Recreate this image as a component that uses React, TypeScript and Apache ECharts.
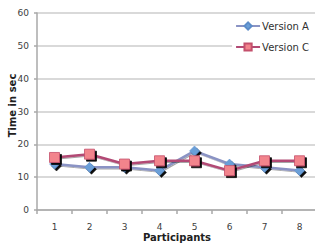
import React, { useEffect, useRef } from "react";
import * as echarts from "echarts";

const participants = ["1", "2", "3", "4", "5", "6", "7", "8"];
const versionA = [14, 13, 13, 12, 18, 14, 13, 12];
const versionC = [16, 17, 14, 15, 15, 12, 15, 15];

export default function App() {
  const ref = useRef<HTMLDivElement>(null);
  useEffect(() => {
    if (!ref.current) return;
    const chart = echarts.init(ref.current, null, { renderer: "svg" });
    const font = "DejaVu Sans";
    chart.setOption({
      animation: false,
      backgroundColor: "#ffffff",
      grid: { left: 37, top: 13, right: -2, bottom: 34, outerBoundsMode: "none", containLabel: false },
      legend: {
        orient: "vertical",
        right: 0,
        top: 18,
        backgroundColor: "#ffffff",
        padding: [3, 6, 4, 3],
        itemWidth: 24,
        itemHeight: 9,
        itemGap: 11,
        textStyle: { fontFamily: font, fontSize: 10, color: "#303030", padding: [0, 0, 0, -3] },
        data: ["Version A", "Version C"],
      },
      xAxis: {
        type: "category",
        data: participants,
        boundaryGap: true,
        name: "Participants",
        nameLocation: "middle",
        nameGap: 22,
        nameMoveOverlap: false,
        nameTextStyle: { fontFamily: font, fontSize: 10, fontWeight: "bold", color: "#202020", lineHeight: 11 },
        axisLine: { lineStyle: { color: "#a8a8a8", width: 1.5 } },
        axisTick: { show: true, length: 4, lineStyle: { color: "#a8a8a8", width: 1.5 } },
        axisLabel: { fontFamily: font, fontSize: 9, color: "#404040", margin: 12, lineHeight: 9 },
      },
      yAxis: {
        type: "value",
        min: 0,
        max: 60,
        interval: 10,
        name: "Time in sec",
        nameLocation: "middle",
        nameGap: 20,
        nameMoveOverlap: false,
        nameTextStyle: { fontFamily: font, fontSize: 10, fontWeight: "bold", color: "#202020", padding: [0, 0, 0, 12] },
        axisLine: { show: true, lineStyle: { color: "#a8a8a8", width: 1.5 } },
        axisTick: { show: true, length: 3, lineStyle: { color: "#a8a8a8", width: 1.5 } },
        axisLabel: { fontFamily: font, fontSize: 9, color: "#404040", margin: 8 },
        splitLine: { lineStyle: { color: "#cccccc", width: 1.5 } },
      },
      series: [
        {
          name: "Version A",
          type: "line",
          data: versionA,
          symbol: "diamond",
          symbolSize: 10,
          lineStyle: { color: "#8a93c4", width: 2.5, shadowColor: "rgba(0,0,0,0.35)", shadowOffsetX: 1, shadowOffsetY: 1, shadowBlur: 1 },
          itemStyle: {
            color: "#6a9fd8",
            borderColor: "#5c8cc8",
            borderWidth: 0.5,
            shadowColor: "rgba(0,0,0,0.95)",
            shadowOffsetX: 2,
            shadowOffsetY: 2,
            shadowBlur: 1,
          },
        },
        {
          name: "Version C",
          type: "line",
          data: versionC,
          symbol: "rect",
          symbolSize: 10,
          lineStyle: { color: "#b24a74", width: 2.5, shadowColor: "rgba(0,0,0,0.35)", shadowOffsetX: 1, shadowOffsetY: 1, shadowBlur: 1 },
          itemStyle: {
            color: "#f2848c",
            borderColor: "#c4506c",
            borderWidth: 0.8,
            shadowColor: "rgba(0,0,0,0.95)",
            shadowOffsetX: 2,
            shadowOffsetY: 2,
            shadowBlur: 1,
          },
        },
      ],
    });
    return () => chart.dispose();
  }, []);
  return <div ref={ref} style={{ width: 315, height: 244, position: "fixed", left: 0, top: 0 }} />;
}
